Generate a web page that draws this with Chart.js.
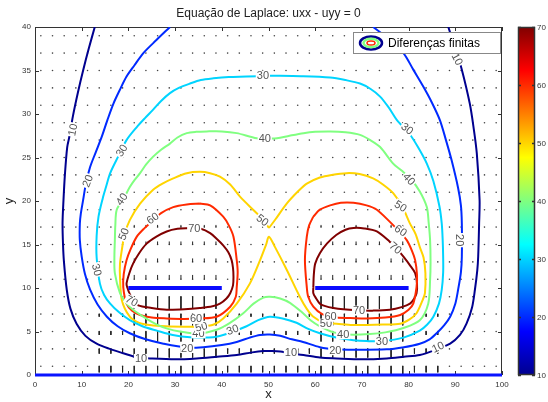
<!DOCTYPE html>
<html>
<head>
<meta charset="utf-8">
<script src="https://cdn.jsdelivr.net/npm/chart.js@4.4.0/dist/chart.umd.min.js"></script>
<style>
html, body { margin: 0; padding: 0; background: #fff; }
#wrap { width: 548px; height: 402px; }
</style>
</head>
<body>
<div id="wrap"><canvas id="chart" width="548" height="402"></canvas></div>
<script>
// tick values
const xTicks = [0, 10, 20, 30, 40, 50, 60, 70, 80, 90, 100];
const yTicks = [0, 5, 10, 15, 20, 25, 30, 35, 40];
const cbTicks = [10, 20, 30, 40, 50, 60, 70];

// contour lines, [x, y]
const c10 = [[12.8,40],[11.5,37.5],[10.3,35],[9.2,32.5],[8.1,29.7],[7.4,27.5],[6.9,26.2],[6.4,23],[6.1,20.1],[5.9,17.5],[6.0,15],[6.2,13],[6.8,9.8],[7.6,7.6],[8.9,5.9],[10.8,4.5],[13.2,3.6],[16,3.0],[18.9,2.5],[22,2.0],[24.6,1.9],[30,1.8],[34.6,1.9],[39,2.1],[43.2,2.3],[46.5,2.6],[48.9,2.75],[50.3,2.75],[52.5,2.7],[54.5,2.5],[57.5,2.3],[61,2.0],[64.6,1.9],[70,1.8],[75.3,1.9],[79,2.1],[82.4,2.3],[85.8,2.9],[88.9,3.6],[91,4.6],[92.4,5.9],[93.6,7.8],[94.2,9.8],[94.7,12],[94.9,13.6],[95.1,17.4],[95.2,20.1],[94.6,25.5],[93.9,28.5],[93.1,31.2],[91.4,35.1],[90.2,37.2],[88.5,40]];
const c20 = [[28.9,40],[26,38.5],[23.2,37],[21.3,35.6],[19.6,34.3],[18.1,32.7],[16.8,31.2],[15.5,29.3],[14.3,27.4],[13,25.6],[11.8,23.9],[10.9,22],[10.3,20.1],[9.8,18.5],[9.6,17.4],[9.6,15.5],[10,13.6],[10.7,11.6],[11.8,9.8],[13.4,8.1],[15.4,6.7],[17.7,5.6],[20.3,4.8],[23.7,4.1],[27.5,3.6],[32.5,3.15],[36,3.2],[40,3.45],[43.2,3.8],[46,4.3],[48.2,4.6],[50.3,4.65],[52.5,4.5],[55,4.1],[57.4,3.8],[61,3.2],[64.5,2.95],[68.2,2.9],[75.3,2.95],[79,3.2],[82.4,3.6],[84.5,4.1],[86,4.8],[87.6,5.7],[88.9,6.7],[90,8.2],[90.6,9.8],[91.2,11.8],[91.4,13.6],[91.4,17.4],[91.2,19.5],[90.6,21.5],[89.2,24.7],[88,27],[86.7,29.3],[85,31.3],[83.2,33.1],[81,35.1],[78.9,37],[75.8,38.6],[72.4,40]];
const c30 = [[50.3,34.4],[45.3,34.3],[41.5,34.25],[38.2,34.1],[35.5,33.9],[33.2,33.5],[30.8,33],[28.9,32.4],[27,31.5],[25.3,30.5],[23.5,29.5],[21.8,28.5],[19.6,27],[17.8,25.1],[16.1,23.2],[15.2,21.6],[14.5,20.3],[13.6,18.2],[13.2,16],[13.2,13.5],[13.9,10.5],[14.8,9.2],[16.1,8.2],[18,7.2],[20.3,6.3],[23,5.6],[26.1,5.1],[29.5,4.6],[33.2,4.35],[38.2,4.35],[41.5,4.8],[45.3,5.6],[47.8,6.3],[50.3,6.7],[53,6.5],[56,6.0],[58.5,5.3],[61,4.8],[64.5,4.3],[68.2,4.0],[71,3.9],[74.5,3.9],[78.9,4.3],[82.4,5.1],[84,5.8],[85.3,6.7],[86.5,8.2],[87.1,9.8],[87.4,11.8],[87.4,13.6],[87.3,15.5],[87.1,17.4],[86.6,19.4],[85.3,22.3],[83.9,24.3],[82,26.2],[80.2,27.7],[77.5,29.3],[75.8,30.7],[73.9,32],[71.8,32.9],[69.6,33.5],[66.5,33.9],[63.2,34.2],[57,34.35]];
const c40 = [[50.3,27.2],[47.5,27.2],[43.2,27.8],[40,28],[36.8,28],[34.5,27.95],[32.5,27.8],[30.5,27.3],[28.9,26.6],[27,25.9],[25.3,25.1],[23.8,24.2],[22.5,23.2],[21.3,22.4],[20.3,21.6],[19,20.3],[17.5,19],[17.2,17.2],[17.1,15.5],[17.0,13.5],[17.1,11.7],[18.2,9.4],[19.5,8.3],[21,7.5],[23.5,6.6],[26.1,5.8],[28.5,5.3],[31,5.0],[35,4.75],[38.9,5.2],[41.5,5.9],[44.6,7.1],[46.8,8.2],[48.9,8.9],[50.3,9.0],[52.5,8.8],[54.6,8.3],[57.4,7.1],[59,6.3],[61,5.6],[64,4.9],[67,4.65],[71.7,4.7],[75,4.9],[78.9,5.4],[82.4,6.3],[84.2,8.2],[84.6,10.9],[84.7,13],[84.6,15.5],[84.3,17.5],[83.9,19.3],[82.4,21.1],[80.5,22.5],[78.5,23.5],[76.7,24.3],[73.9,26.2],[71.8,27],[69.6,27.6],[66.5,27.9],[63.2,28],[60,27.95],[57.5,27.8],[54.5,27.5],[51.8,27.2]];
const c50 = [[50.1,16.9],[48.8,17.9],[46.7,19],[43.9,20.5],[41.8,21.9],[39.6,22.8],[37.5,23.2],[35.3,23.35],[32.5,23.2],[29.6,22.6],[27.3,22],[25.3,21.3],[22.5,19.7],[20.3,17.8],[19.2,16.2],[18.6,14.4],[18.2,12.8],[18.2,11.3],[18.6,8.6],[20.3,6.7],[22.3,6.0],[24.6,5.75],[28,5.6],[31.8,5.55],[35.3,5.55],[38.3,5.8],[40.3,6.5],[43.2,8.2],[46,10.5],[48.2,13.2],[49.5,15],[50.1,15.9],[51.4,14.7],[53.9,12.1],[56.7,9],[58.2,7.6],[59.6,6.7],[62,6.0],[64.6,5.9],[68,5.75],[71,5.75],[74.5,5.8],[78.2,5.9],[80.2,6.4],[81.7,7.1],[83,8.6],[83.5,9.4],[83.6,11.7],[83.2,13.5],[82.4,14.7],[81.5,16.2],[80.3,17.4],[78.7,19.3],[76.7,20.9],[74.5,21.9],[72.4,22.6],[69.5,23.1],[66.7,23.2],[63.5,23.0],[61,22.7],[58.2,22],[56.5,21.2],[53.9,19.7],[51.5,17.9]];
const c60Left = [[35.3,19.7],[32.5,19.6],[29.6,19.3],[27,18.6],[25,17.6],[23.3,16.8],[21.8,15.9],[20.5,14.5],[19.6,13.2],[19.0,11.6],[18.9,10.1],[19.6,8.2],[20.8,7.4],[22.5,6.9],[25,6.6],[28.2,6.5],[32,6.45],[35,6.5],[38.9,6.7],[41.8,7.85],[43.0,9],[43.2,10.1],[43.4,11.8],[43.2,13.2],[42.5,15.9],[41.5,17.2],[40.3,18.2],[37.5,19.5]];
const c60Right = [[59.6,18.2],[61,19],[63.2,19.5],[65.5,19.8],[68.2,19.8],[71,19.5],[73.2,19.0],[76,17.6],[77.8,16.6],[79.6,15.5],[80.7,14.3],[81.4,13.2],[81.8,11.5],[81.7,10.1],[81,8.2],[80,7.5],[78.2,6.9],[75,6.6],[71,6.5],[67.5,6.55],[64.6,6.6],[61.5,7.0],[59.6,7.85],[58.5,9],[58.2,10.1],[57.8,13.2],[58.2,15.9],[58.7,17.2]];
const c70Left = [[33.2,16.9],[30.5,16.8],[28.2,16.5],[26,15.9],[23.9,15.1],[22.3,14],[21,12.8],[20.2,11.7],[19.6,10.5],[19.8,10],[20.3,9.3],[21,8.6],[22.1,8.0],[25,7.7],[28.2,7.5],[32,7.55],[35.3,7.7],[38,7.9],[39.6,8.2],[41,8.8],[41.8,9.4],[42.4,10.3],[42.5,11.3],[42.4,12.3],[42.1,13.2],[41.4,14.1],[40.3,14.9],[39,15.6],[37.5,16.3],[35.5,16.8]];
const c70Right = [[59.6,10.1],[59.7,11.5],[60,12.8],[61,14],[62.5,15.1],[64.5,16.1],[66.5,16.7],[68.2,16.9],[70.5,16.85],[73.2,16.5],[76,15.3],[77.5,14.5],[78.9,13.6],[80.3,12.6],[81.4,11.7],[81.8,10.5],[81.7,9.4],[81.1,8.7],[80.3,8.2],[78.5,7.8],[76,7.5],[72.5,7.4],[69,7.45],[66,7.55],[63.9,7.7],[62,7.95],[61,8.2],[60.2,8.8],[59.6,9.4]];

// electrodes and boundary
const barLeftX = [20, 40];
const barRightX = [60, 80];
const barY = [10, 10];
const boundX = [0, 100];
const boundY = [0, 0];

// contour labels: text, x, y, angle (deg)
const contourLabels = [
  ['10', 8.1, 28.2, -78], ['10', 22.7, 1.85, 0], ['10', 54.8, 2.55, 0], ['10', 86.3, 3.2, -25], ['10', 90.4, 36.3, 62],
  ['20', 11.3, 22.3, -68], ['20', 32.6, 3.1, 0], ['20', 64.3, 2.85, 0], ['20', 90.9, 15.5, 90],
  ['30', 48.8, 34.4, 0], ['30', 18.6, 25.8, -58], ['30', 13.2, 12.1, 75], ['30', 42.3, 5.2, -20], ['30', 74.3, 3.85, 0], ['30', 79.7, 28.3, 38],
  ['40', 49.2, 27.2, 0], ['40', 18.6, 20.2, -55], ['40', 35.0, 4.8, 0], ['40', 66.0, 4.7, 0], ['40', 80.1, 22.5, 48],
  ['50', 48.7, 17.8, 38], ['50', 19.0, 16.2, -68], ['50', 35.6, 5.55, -15], ['50', 78.3, 19.4, 32], ['50', 62.3, 5.9, 0],
  ['60', 25.2, 18.0, -35], ['60', 34.5, 6.45, 0], ['60', 78.3, 16.6, 35], ['60', 63.3, 6.7, 0],
  ['70', 34.1, 16.8, 0], ['70', 20.7, 8.5, 30], ['70', 77.2, 14.6, 40], ['70', 69.4, 7.4, 0]
];

// quiver grid
const quiverX = [1.25, 3.75, 6.25, 8.75, 11.25, 13.75, 16.25, 18.75, 21.25, 23.75, 26.25, 28.75, 31.25, 33.75, 36.25, 38.75, 41.25, 43.75, 46.25, 48.75, 51.25, 53.75, 56.25, 58.75, 61.25, 63.75, 66.25, 68.75, 71.25, 73.75, 76.25, 78.75, 81.25, 83.75, 86.25, 88.75, 91.25, 93.75, 96.25, 98.75];
const quiverY = [1, 3, 5, 7, 9, 11, 13, 15, 17, 19, 21, 23, 25, 27, 29, 31, 33, 35, 37, 39];
// visible arrows (vertical component), by band
const arrowColsBar = [21.25, 23.75, 26.25, 28.75, 31.25, 33.75, 36.25, 38.75, 61.25, 63.75, 66.25, 68.75, 71.25, 73.75, 76.25, 78.75];
const arrowColsSide = [13.75, 16.25, 18.75, 41.25, 43.75, 46.25, 48.75, 51.25, 53.75, 56.25, 58.75, 81.25, 83.75, 86.25];
const arrowRowsUnder = [9, 7, 5, 3, 1];
const arrowLenUnder = [-1.4, -1.3, -1.15, -1.0, -0.9];
const arrowRowsOver = [11, 13, 15, 17];
const arrowLenOver = [0.5, 0.4, 0.35, 0.25];
const arrowRowsSide = [7, 5, 3, 1];
const arrowLenSide = [-0.3, -0.4, -0.55, -0.7];

const levelColor = { 10: '#00008f', 20: '#002aff', 30: '#00d4ff', 40: '#80ff80', 50: '#ffd400', 60: '#ff2a00', 70: '#800000' };
const jetStops = [[0, '#00008f'], [0.125, '#0000ff'], [0.375, '#00ffff'], [0.625, '#ffff00'], [0.875, '#ff0000'], [1, '#800000']];
const FONT = "'Liberation Sans', Arial, sans-serif";

const pts = arr => arr.map(p => ({ x: p[0], y: p[1] }));
const loop = arr => pts(arr.concat([arr[0]]));

const dots = [];
quiverY.forEach(y => quiverX.forEach(x => dots.push({ x, y })));

const segs = [];
function addBand(cols, rows, lens) {
	rows.forEach((y, i) => {
		cols.forEach(x => {
			segs.push({ x, y }, { x, y: y + lens[i] }, { x: NaN, y: NaN });
		});
	});
}
addBand(arrowColsBar, arrowRowsUnder, arrowLenUnder);
addBand(arrowColsBar, arrowRowsOver, arrowLenOver);
addBand(arrowColsSide, arrowRowsSide, arrowLenSide);

function contour(data, level) {
	return {
		data, showLine: true, pointRadius: 0, borderWidth: 2,
		borderColor: levelColor[level], tension: 0.3, order: 5
	};
}

const datasets = [
	{ data: dots, pointRadius: 0.8, backgroundColor: '#444', borderWidth: 0, order: 10 },
	{ data: segs, showLine: true, pointRadius: 0, borderWidth: 1, borderColor: '#222', tension: 0, order: 9 },
	contour(pts(c10), 10),
	contour(pts(c20), 20),
	contour(loop(c30), 30),
	contour(loop(c40), 40),
	contour(loop(c50), 50),
	contour(loop(c60Left), 60),
	contour(loop(c60Right), 60),
	contour(loop(c70Left), 70),
	contour(loop(c70Right), 70),
	{ data: barLeftX.map((x, i) => ({ x, y: barY[i] })), showLine: true, pointRadius: 0, borderWidth: 4, borderColor: '#0a0aff', order: 1 },
	{ data: barRightX.map((x, i) => ({ x, y: barY[i] })), showLine: true, pointRadius: 0, borderWidth: 4, borderColor: '#0a0aff', order: 1 },
	{ data: boundX.map((x, i) => ({ x, y: boundY[i] })), showLine: true, pointRadius: 0, borderWidth: 3, borderColor: '#0a14ff', order: 1, clip: 4 }
];

const framePlugin = {
	id: 'frame',
	beforeDatasetsDraw(chart) {
		const { ctx, chartArea: a, scales: { x, y } } = chart;
		ctx.save();
		ctx.strokeStyle = '#333';
		ctx.lineWidth = 1;
		ctx.beginPath();
		xTicks.forEach(v => {
			const p = Math.round(x.getPixelForValue(v)) + 0.5;
			ctx.moveTo(p, a.bottom); ctx.lineTo(p, a.bottom - 4);
			ctx.moveTo(p, a.top); ctx.lineTo(p, a.top + 4);
		});
		yTicks.forEach(v => {
			const p = Math.round(y.getPixelForValue(v)) + 0.5;
			ctx.moveTo(a.left, p); ctx.lineTo(a.left + 4, p);
			ctx.moveTo(a.right, p); ctx.lineTo(a.right - 4, p);
		});
		ctx.stroke();
		ctx.strokeRect(a.left + 0.5, a.top + 0.5, a.right - a.left - 1, a.bottom - a.top - 1);
		ctx.restore();
	}
};

const labelPlugin = {
	id: 'clabels',
	afterDatasetsDraw(chart) {
		const { ctx, scales: { x, y } } = chart;
		ctx.save();
		ctx.font = '11px ' + FONT;
		ctx.textAlign = 'center';
		ctx.textBaseline = 'middle';
		contourLabels.forEach(([t, vx, vy, ang]) => {
			const w = ctx.measureText(t).width;
			ctx.save();
			ctx.translate(x.getPixelForValue(vx), y.getPixelForValue(vy));
			ctx.rotate(ang * Math.PI / 180);
			ctx.fillStyle = '#fff';
			ctx.fillRect(-w / 2 - 1, -5, w + 2, 10);
			ctx.fillStyle = '#555';
			ctx.fillText(t, 0, 0.5);
			ctx.restore();
		});
		ctx.restore();
	}
};

const extrasPlugin = {
	id: 'extras',
	afterDraw(chart) {
		const { ctx, chartArea: a } = chart;
		ctx.save();
		// title
		ctx.fillStyle = '#222';
		ctx.font = '12px ' + FONT;
		ctx.textAlign = 'center';
		ctx.textBaseline = 'middle';
		ctx.fillText('Equação de Laplace: uxx - uyy = 0', (a.left + a.right) / 2, 14);

		// legend
		const lx = a.right - 149, ly = a.top + 5, lw = 147, lh = 21;
		ctx.fillStyle = '#fff';
		ctx.fillRect(lx, ly, lw, lh);
		ctx.strokeStyle = '#888';
		ctx.lineWidth = 1;
		ctx.strokeRect(lx + 0.5, ly + 0.5, lw, lh);
		const cx = lx + 18, cy = ly + lh / 2 + 0.5;
		[[11, 6.5, levelColor[10], 2.5], [7.5, 4.2, levelColor[40], 2.5], [4, 2, levelColor[60], 1.5]].forEach(([rx, ry, c, lwid]) => {
			ctx.beginPath();
			ctx.ellipse(cx, cy, rx, ry, 0, 0, Math.PI * 2);
			ctx.strokeStyle = c;
			ctx.lineWidth = lwid;
			ctx.stroke();
		});
		ctx.fillStyle = '#000';
		ctx.textAlign = 'left';
		ctx.font = '12px ' + FONT;
		ctx.fillText('Diferenças finitas', lx + 35, cy + 0.5);

		// colorbar
		const bx = a.right + 16, bw = 17;
		const grad = ctx.createLinearGradient(0, a.bottom, 0, a.top);
		jetStops.forEach(([t, c]) => grad.addColorStop(t, c));
		ctx.fillStyle = grad;
		ctx.fillRect(bx, a.top, bw, a.bottom - a.top);
		ctx.strokeStyle = '#333';
		ctx.strokeRect(bx + 0.5, a.top + 0.5, bw - 1, a.bottom - a.top - 1);
		const cMin = cbTicks[0], cMax = cbTicks[cbTicks.length - 1];
		ctx.font = '8px ' + FONT;
		ctx.fillStyle = '#333';
		ctx.beginPath();
		cbTicks.forEach(v => {
			const py = Math.round(a.bottom - (v - cMin) / (cMax - cMin) * (a.bottom - a.top)) + 0.5;
			ctx.moveTo(bx, py); ctx.lineTo(bx + 3, py);
			ctx.moveTo(bx + bw, py); ctx.lineTo(bx + bw - 3, py);
			ctx.fillText(String(v), bx + bw + 2, py);
		});
		ctx.stroke();
		ctx.restore();
	}
};

new Chart(document.getElementById('chart'), {
	type: 'scatter',
	data: { datasets },
	options: {
		responsive: false,
		animation: false,
		devicePixelRatio: 1,
		layout: { padding: { top: 27, right: 46, left: 0, bottom: 0 } },
		plugins: { legend: { display: false }, tooltip: { enabled: false } },
		scales: {
			x: {
				type: 'linear', min: 0, max: 100,
				grid: { display: false, drawTicks: false }, border: { display: false },
				ticks: { stepSize: 10, color: '#333', font: { size: 8, family: FONT }, padding: 5, maxRotation: 0 },
				title: { display: true, text: 'x', color: '#222', font: { size: 13, family: FONT }, padding: { top: 0, bottom: 0 } },
				afterFit: s => { s.height = 27; }
			},
			y: {
				type: 'linear', min: 0, max: 40,
				grid: { display: false, drawTicks: false }, border: { display: false },
				ticks: { stepSize: 5, color: '#333', font: { size: 8, family: FONT }, padding: 4 },
				title: { display: true, text: 'y', color: '#222', font: { size: 13, family: FONT }, padding: { top: 2, bottom: 0 } },
				afterFit: s => { s.width = 35; }
			}
		}
	},
	plugins: [framePlugin, labelPlugin, extrasPlugin]
});
</script>
</body>
</html>
